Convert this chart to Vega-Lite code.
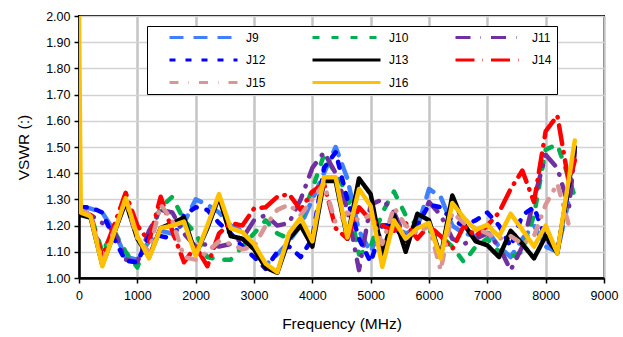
{
  "$schema": "https://vega.github.io/schema/vega-lite/v6.json",
  "width": 525,
  "height": 262,
  "autosize": {"type": "none"},
  "padding": {"left": 79, "top": 16, "right": 19, "bottom": 59},
  "config": {
    "font": "Liberation Sans",
    "view": {"stroke": "black", "strokeWidth": 2}
  },
  "data": {
    "values": [
      {"s":"J9","f":30,"v":1.27},{"s":"J9","f":200,"v":1.265},{"s":"J9","f":400,"v":1.25},{"s":"J9","f":600,"v":1.18},{"s":"J9","f":800,"v":1.08},{"s":"J9","f":1000,"v":1.07},{"s":"J9","f":1200,"v":1.14},{"s":"J9","f":1400,"v":1.18},{"s":"J9","f":1600,"v":1.17},{"s":"J9","f":1800,"v":1.21},{"s":"J9","f":2000,"v":1.30},{"s":"J9","f":2200,"v":1.28},{"s":"J9","f":2400,"v":1.25},{"s":"J9","f":2600,"v":1.20},{"s":"J9","f":2800,"v":1.18},{"s":"J9","f":3000,"v":1.12},{"s":"J9","f":3200,"v":1.05},{"s":"J9","f":3400,"v":1.09},{"s":"J9","f":3600,"v":1.14},{"s":"J9","f":3800,"v":1.20},{"s":"J9","f":4000,"v":1.30},{"s":"J9","f":4200,"v":1.40},{"s":"J9","f":4400,"v":1.50},{"s":"J9","f":4600,"v":1.38},{"s":"J9","f":4800,"v":1.18},{"s":"J9","f":5000,"v":1.10},{"s":"J9","f":5200,"v":1.20},{"s":"J9","f":5400,"v":1.20},{"s":"J9","f":5600,"v":1.17},{"s":"J9","f":5800,"v":1.19},{"s":"J9","f":6000,"v":1.34},{"s":"J9","f":6200,"v":1.31},{"s":"J9","f":6400,"v":1.20},{"s":"J9","f":6600,"v":1.17},{"s":"J9","f":6800,"v":1.16},{"s":"J9","f":7000,"v":1.18},{"s":"J9","f":7200,"v":1.12},{"s":"J9","f":7400,"v":1.08},{"s":"J9","f":7600,"v":1.15},{"s":"J9","f":7800,"v":1.20},{"s":"J9","f":8000,"v":1.12},{"s":"J9","f":8200,"v":1.10},{"s":"J9","f":8400,"v":1.30},{"s":"J9","f":8500,"v":1.50},
      {"s":"J10","f":30,"v":1.26},{"s":"J10","f":200,"v":1.24},{"s":"J10","f":400,"v":1.10},{"s":"J10","f":600,"v":1.18},{"s":"J10","f":800,"v":1.10},{"s":"J10","f":1000,"v":1.04},{"s":"J10","f":1200,"v":1.16},{"s":"J10","f":1400,"v":1.27},{"s":"J10","f":1600,"v":1.31},{"s":"J10","f":1800,"v":1.22},{"s":"J10","f":2000,"v":1.17},{"s":"J10","f":2200,"v":1.08},{"s":"J10","f":2400,"v":1.07},{"s":"J10","f":2600,"v":1.07},{"s":"J10","f":2800,"v":1.12},{"s":"J10","f":3000,"v":1.17},{"s":"J10","f":3200,"v":1.22},{"s":"J10","f":3400,"v":1.17},{"s":"J10","f":3600,"v":1.15},{"s":"J10","f":3800,"v":1.22},{"s":"J10","f":4000,"v":1.34},{"s":"J10","f":4200,"v":1.47},{"s":"J10","f":4400,"v":1.40},{"s":"J10","f":4600,"v":1.32},{"s":"J10","f":4800,"v":1.09},{"s":"J10","f":5000,"v":1.12},{"s":"J10","f":5200,"v":1.25},{"s":"J10","f":5400,"v":1.33},{"s":"J10","f":5600,"v":1.24},{"s":"J10","f":5800,"v":1.20},{"s":"J10","f":6000,"v":1.18},{"s":"J10","f":6200,"v":1.16},{"s":"J10","f":6400,"v":1.12},{"s":"J10","f":6600,"v":1.06},{"s":"J10","f":6800,"v":1.12},{"s":"J10","f":7000,"v":1.15},{"s":"J10","f":7200,"v":1.10},{"s":"J10","f":7400,"v":1.08},{"s":"J10","f":7600,"v":1.10},{"s":"J10","f":7800,"v":1.24},{"s":"J10","f":8000,"v":1.49},{"s":"J10","f":8200,"v":1.51},{"s":"J10","f":8400,"v":1.38},{"s":"J10","f":8500,"v":1.31},
      {"s":"J11","f":30,"v":1.26},{"s":"J11","f":200,"v":1.24},{"s":"J11","f":400,"v":1.21},{"s":"J11","f":600,"v":1.18},{"s":"J11","f":800,"v":1.07},{"s":"J11","f":1000,"v":1.06},{"s":"J11","f":1200,"v":1.18},{"s":"J11","f":1400,"v":1.26},{"s":"J11","f":1600,"v":1.25},{"s":"J11","f":1800,"v":1.17},{"s":"J11","f":2000,"v":1.12},{"s":"J11","f":2200,"v":1.13},{"s":"J11","f":2400,"v":1.12},{"s":"J11","f":2600,"v":1.13},{"s":"J11","f":2800,"v":1.15},{"s":"J11","f":3000,"v":1.22},{"s":"J11","f":3200,"v":1.24},{"s":"J11","f":3400,"v":1.20},{"s":"J11","f":3600,"v":1.21},{"s":"J11","f":3800,"v":1.30},{"s":"J11","f":4000,"v":1.42},{"s":"J11","f":4200,"v":1.48},{"s":"J11","f":4400,"v":1.40},{"s":"J11","f":4600,"v":1.26},{"s":"J11","f":4800,"v":1.03},{"s":"J11","f":5000,"v":1.28},{"s":"J11","f":5200,"v":1.30},{"s":"J11","f":5400,"v":1.25},{"s":"J11","f":5600,"v":1.15},{"s":"J11","f":5800,"v":1.20},{"s":"J11","f":6000,"v":1.29},{"s":"J11","f":6200,"v":1.24},{"s":"J11","f":6400,"v":1.15},{"s":"J11","f":6600,"v":1.13},{"s":"J11","f":6800,"v":1.15},{"s":"J11","f":7000,"v":1.17},{"s":"J11","f":7200,"v":1.12},{"s":"J11","f":7400,"v":1.03},{"s":"J11","f":7600,"v":1.12},{"s":"J11","f":7800,"v":1.30},{"s":"J11","f":8000,"v":1.47},{"s":"J11","f":8200,"v":1.42},{"s":"J11","f":8400,"v":1.27},{"s":"J11","f":8500,"v":1.48},
      {"s":"J12","f":30,"v":1.27},{"s":"J12","f":200,"v":1.27},{"s":"J12","f":400,"v":1.25},{"s":"J12","f":600,"v":1.15},{"s":"J12","f":800,"v":1.065},{"s":"J12","f":1000,"v":1.06},{"s":"J12","f":1200,"v":1.16},{"s":"J12","f":1400,"v":1.16},{"s":"J12","f":1600,"v":1.15},{"s":"J12","f":1800,"v":1.24},{"s":"J12","f":2000,"v":1.27},{"s":"J12","f":2200,"v":1.26},{"s":"J12","f":2400,"v":1.21},{"s":"J12","f":2600,"v":1.17},{"s":"J12","f":2800,"v":1.12},{"s":"J12","f":3000,"v":1.08},{"s":"J12","f":3200,"v":1.035},{"s":"J12","f":3400,"v":1.10},{"s":"J12","f":3600,"v":1.12},{"s":"J12","f":3800,"v":1.08},{"s":"J12","f":4000,"v":1.15},{"s":"J12","f":4200,"v":1.42},{"s":"J12","f":4400,"v":1.48},{"s":"J12","f":4600,"v":1.30},{"s":"J12","f":4800,"v":1.15},{"s":"J12","f":5000,"v":1.06},{"s":"J12","f":5200,"v":1.20},{"s":"J12","f":5400,"v":1.20},{"s":"J12","f":5600,"v":1.14},{"s":"J12","f":5800,"v":1.20},{"s":"J12","f":6000,"v":1.28},{"s":"J12","f":6200,"v":1.27},{"s":"J12","f":6400,"v":1.22},{"s":"J12","f":6600,"v":1.20},{"s":"J12","f":6800,"v":1.22},{"s":"J12","f":7000,"v":1.25},{"s":"J12","f":7200,"v":1.20},{"s":"J12","f":7400,"v":1.12},{"s":"J12","f":7600,"v":1.24},{"s":"J12","f":7800,"v":1.27},{"s":"J12","f":8000,"v":1.15},{"s":"J12","f":8200,"v":1.10},{"s":"J12","f":8400,"v":1.35},{"s":"J12","f":8500,"v":1.50},
      {"s":"J13","f":30,"v":1.24},{"s":"J13","f":200,"v":1.23},{"s":"J13","f":400,"v":1.05},{"s":"J13","f":600,"v":1.17},{"s":"J13","f":800,"v":1.29},{"s":"J13","f":1000,"v":1.15},{"s":"J13","f":1200,"v":1.08},{"s":"J13","f":1400,"v":1.19},{"s":"J13","f":1600,"v":1.21},{"s":"J13","f":1800,"v":1.23},{"s":"J13","f":2000,"v":1.09},{"s":"J13","f":2200,"v":1.19},{"s":"J13","f":2400,"v":1.31},{"s":"J13","f":2600,"v":1.16},{"s":"J13","f":2800,"v":1.15},{"s":"J13","f":3000,"v":1.11},{"s":"J13","f":3200,"v":1.04},{"s":"J13","f":3400,"v":1.02},{"s":"J13","f":3600,"v":1.15},{"s":"J13","f":3800,"v":1.20},{"s":"J13","f":4000,"v":1.12},{"s":"J13","f":4200,"v":1.37},{"s":"J13","f":4400,"v":1.37},{"s":"J13","f":4600,"v":1.15},{"s":"J13","f":4800,"v":1.38},{"s":"J13","f":5000,"v":1.32},{"s":"J13","f":5200,"v":1.09},{"s":"J13","f":5400,"v":1.24},{"s":"J13","f":5600,"v":1.10},{"s":"J13","f":5800,"v":1.245},{"s":"J13","f":6000,"v":1.22},{"s":"J13","f":6200,"v":1.08},{"s":"J13","f":6400,"v":1.315},{"s":"J13","f":6600,"v":1.205},{"s":"J13","f":6800,"v":1.14},{"s":"J13","f":7000,"v":1.125},{"s":"J13","f":7200,"v":1.08},{"s":"J13","f":7400,"v":1.18},{"s":"J13","f":7600,"v":1.13},{"s":"J13","f":7800,"v":1.075},{"s":"J13","f":8000,"v":1.16},{"s":"J13","f":8200,"v":1.095},{"s":"J13","f":8500,"v":1.50},
      {"s":"J14","f":30,"v":1.26},{"s":"J14","f":200,"v":1.24},{"s":"J14","f":400,"v":1.08},{"s":"J14","f":600,"v":1.20},{"s":"J14","f":800,"v":1.325},{"s":"J14","f":1000,"v":1.20},{"s":"J14","f":1200,"v":1.14},{"s":"J14","f":1400,"v":1.31},{"s":"J14","f":1600,"v":1.18},{"s":"J14","f":1800,"v":1.06},{"s":"J14","f":2000,"v":1.12},{"s":"J14","f":2200,"v":1.045},{"s":"J14","f":2400,"v":1.17},{"s":"J14","f":2600,"v":1.21},{"s":"J14","f":2800,"v":1.20},{"s":"J14","f":3000,"v":1.265},{"s":"J14","f":3200,"v":1.27},{"s":"J14","f":3400,"v":1.31},{"s":"J14","f":3600,"v":1.32},{"s":"J14","f":3800,"v":1.26},{"s":"J14","f":4000,"v":1.33},{"s":"J14","f":4200,"v":1.36},{"s":"J14","f":4400,"v":1.19},{"s":"J14","f":4600,"v":1.15},{"s":"J14","f":4800,"v":1.27},{"s":"J14","f":5000,"v":1.22},{"s":"J14","f":5200,"v":1.20},{"s":"J14","f":5400,"v":1.18},{"s":"J14","f":5600,"v":1.21},{"s":"J14","f":5800,"v":1.15},{"s":"J14","f":6000,"v":1.20},{"s":"J14","f":6200,"v":1.16},{"s":"J14","f":6400,"v":1.11},{"s":"J14","f":6600,"v":1.20},{"s":"J14","f":6800,"v":1.16},{"s":"J14","f":7000,"v":1.20},{"s":"J14","f":7200,"v":1.25},{"s":"J14","f":7400,"v":1.34},{"s":"J14","f":7600,"v":1.41},{"s":"J14","f":7800,"v":1.29},{"s":"J14","f":8000,"v":1.56},{"s":"J14","f":8200,"v":1.62},{"s":"J14","f":8400,"v":1.36},{"s":"J14","f":8500,"v":1.45},
      {"s":"J15","f":30,"v":1.26},{"s":"J15","f":200,"v":1.24},{"s":"J15","f":400,"v":1.06},{"s":"J15","f":600,"v":1.18},{"s":"J15","f":800,"v":1.30},{"s":"J15","f":1000,"v":1.15},{"s":"J15","f":1200,"v":1.10},{"s":"J15","f":1400,"v":1.28},{"s":"J15","f":1600,"v":1.22},{"s":"J15","f":1800,"v":1.08},{"s":"J15","f":2000,"v":1.07},{"s":"J15","f":2200,"v":1.10},{"s":"J15","f":2400,"v":1.14},{"s":"J15","f":2600,"v":1.13},{"s":"J15","f":2800,"v":1.11},{"s":"J15","f":3000,"v":1.12},{"s":"J15","f":3200,"v":1.20},{"s":"J15","f":3400,"v":1.26},{"s":"J15","f":3600,"v":1.28},{"s":"J15","f":3800,"v":1.24},{"s":"J15","f":4000,"v":1.30},{"s":"J15","f":4200,"v":1.36},{"s":"J15","f":4400,"v":1.21},{"s":"J15","f":4600,"v":1.25},{"s":"J15","f":4800,"v":1.22},{"s":"J15","f":5000,"v":1.24},{"s":"J15","f":5200,"v":1.13},{"s":"J15","f":5400,"v":1.27},{"s":"J15","f":5600,"v":1.20},{"s":"J15","f":5800,"v":1.17},{"s":"J15","f":6000,"v":1.20},{"s":"J15","f":6200,"v":1.03},{"s":"J15","f":6400,"v":1.25},{"s":"J15","f":6600,"v":1.21},{"s":"J15","f":6800,"v":1.19},{"s":"J15","f":7000,"v":1.17},{"s":"J15","f":7200,"v":1.15},{"s":"J15","f":7400,"v":1.16},{"s":"J15","f":7600,"v":1.13},{"s":"J15","f":7800,"v":1.16},{"s":"J15","f":8000,"v":1.28},{"s":"J15","f":8200,"v":1.36},{"s":"J15","f":8400,"v":1.20},
      {"s":"J16","f":0,"v":2.0},{"s":"J16","f":30,"v":1.25},{"s":"J16","f":200,"v":1.235},{"s":"J16","f":400,"v":1.045},{"s":"J16","f":600,"v":1.17},{"s":"J16","f":800,"v":1.305},{"s":"J16","f":1000,"v":1.16},{"s":"J16","f":1200,"v":1.075},{"s":"J16","f":1400,"v":1.19},{"s":"J16","f":1600,"v":1.20},{"s":"J16","f":1800,"v":1.215},{"s":"J16","f":2000,"v":1.085},{"s":"J16","f":2200,"v":1.20},{"s":"J16","f":2400,"v":1.32},{"s":"J16","f":2600,"v":1.19},{"s":"J16","f":2800,"v":1.175},{"s":"J16","f":3000,"v":1.13},{"s":"J16","f":3200,"v":1.055},{"s":"J16","f":3400,"v":1.022},{"s":"J16","f":3600,"v":1.17},{"s":"J16","f":3800,"v":1.23},{"s":"J16","f":4000,"v":1.14},{"s":"J16","f":4200,"v":1.385},{"s":"J16","f":4400,"v":1.385},{"s":"J16","f":4600,"v":1.155},{"s":"J16","f":4800,"v":1.34},{"s":"J16","f":5000,"v":1.275},{"s":"J16","f":5200,"v":1.043},{"s":"J16","f":5400,"v":1.22},{"s":"J16","f":5600,"v":1.15},{"s":"J16","f":5800,"v":1.19},{"s":"J16","f":6000,"v":1.21},{"s":"J16","f":6200,"v":1.075},{"s":"J16","f":6400,"v":1.286},{"s":"J16","f":6600,"v":1.229},{"s":"J16","f":6800,"v":1.184},{"s":"J16","f":7000,"v":1.203},{"s":"J16","f":7200,"v":1.158},{"s":"J16","f":7400,"v":1.245},{"s":"J16","f":7600,"v":1.184},{"s":"J16","f":7800,"v":1.12},{"s":"J16","f":8000,"v":1.20},{"s":"J16","f":8200,"v":1.095},{"s":"J16","f":8500,"v":1.525}
    ]
  },
  "mark": {"type": "line", "strokeWidth": 4.5, "strokeCap": "round", "strokeJoin": "round", "clip": true},
  "encoding": {
    "x": {
      "field": "f", "type": "quantitative",
      "scale": {"domain": [0, 9000], "nice": false, "zero": false},
      "axis": {
        "values": [0, 1000, 2000, 3000, 4000, 5000, 6000, 7000, 8000, 9000],
        "format": "d",
        "title": "Frequency (MHz)",
        "grid": true, "gridColor": "#c4c4c4", "gridWidth": 2.5,
        "domainColor": "black", "domainWidth": 2.5,
        "tickColor": "black", "tickSize": 5, "tickWidth": 1.5,
        "labelFontSize": 12.5, "labelColor": "black", "labelPadding": 6, "labelFlush": false,
        "titleFontSize": 15.5, "titleFontWeight": "normal", "titleColor": "black", "titlePadding": 15
      }
    },
    "y": {
      "field": "v", "type": "quantitative",
      "scale": {"domain": [1, 2], "nice": false, "zero": false},
      "axis": {
        "values": [1, 1.1, 1.2, 1.3, 1.4, 1.5, 1.6, 1.7, 1.8, 1.9, 2],
        "format": ".2f",
        "title": "VSWR (:)",
        "grid": true, "gridColor": "#d2d2d2", "gridWidth": 1.5,
        "domainColor": "black", "domainWidth": 2.5,
        "tickColor": "black", "tickSize": 5, "tickWidth": 1.5,
        "labelFontSize": 12.5, "labelColor": "black", "labelPadding": 4, "labelFlush": false,
        "titleFontSize": 15.5, "titleFontWeight": "normal", "titleColor": "black", "titlePadding": 14
      }
    },
    "color": {
      "field": "s", "type": "nominal",
      "scale": {
        "domain": ["J9", "J12", "J15", "J10", "J13", "J16", "J11", "J14"],
        "range": ["#4080ff", "#0000ff", "#d99694", "#00b050", "#000000", "#ffc000", "#7030a0", "#ff0000"]
      },
      "legend": {
        "title": null, "orient": "none", "legendX": 68, "legendY": 10,
        "columns": 3, "columnPadding": 29, "rowPadding": 9.5, "padding": 5,
        "strokeColor": "black", "fillColor": "white",
        "symbolType": "stroke", "symbolSize": 4624, "symbolStrokeWidth": 3,
        "clipHeight": 13, "symbolOffset": 16, "labelOffset": 7,
        "labelFontSize": 12, "labelColor": "black",
        "labelExpr": "datum.label + '\u00a0\u00a0\u00a0\u00a0\u00a0'"
      }
    },
    "strokeDash": {
      "field": "s", "type": "nominal",
      "scale": {
        "domain": ["J9", "J12", "J15", "J10", "J13", "J16", "J11", "J14"],
        "range": [[14, 10], [6, 10], [9, 10, 0.5, 10], [7, 12], [1, 0], [1, 0], [15, 10, 0.5, 10], [19, 8, 0.5, 8]]
      },
      "legend": {
        "title": null, "orient": "none", "legendX": 68, "legendY": 10,
        "columns": 3, "columnPadding": 29, "rowPadding": 9.5, "padding": 5,
        "strokeColor": "black", "fillColor": "white",
        "symbolType": "stroke", "symbolSize": 4624, "symbolStrokeWidth": 3,
        "clipHeight": 13, "symbolOffset": 16, "labelOffset": 7,
        "labelFontSize": 12, "labelColor": "black",
        "labelExpr": "datum.label + '\u00a0\u00a0\u00a0\u00a0\u00a0'"
      }
    }
  }
}
